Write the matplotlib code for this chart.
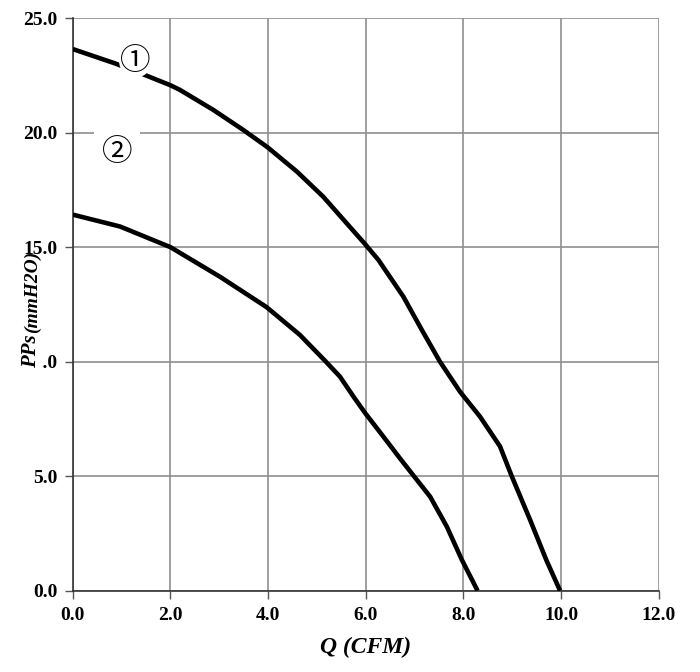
import matplotlib
matplotlib.use("Agg")
import matplotlib.pyplot as plt

# fan curves (Q in CFM, static pressure in mmH2O)
q1 = [0, 0.87, 1.45, 2.0, 2.2, 2.88, 3.49, 3.99, 4.59, 5.13, 5.61, 6.0, 6.26, 6.77,
      7.15, 7.52, 7.93, 8.34, 8.75, 8.99, 9.37, 9.7, 9.98]
p1 = [23.65, 23.02, 22.54, 22.07, 21.86, 20.99, 20.12, 19.36, 18.3, 17.2, 16.04, 15.1,
      14.44, 12.84, 11.38, 10.0, 8.69, 7.6, 6.3, 5.0, 3.07, 1.33, 0]

q2 = [0, 0.97, 2.0, 3.02, 3.97, 4.65, 5.17, 5.47, 5.75, 5.99, 6.36, 6.70, 6.98, 7.32,
      7.66, 7.97, 8.29]
p2 = [16.42, 15.9, 15.0, 13.7, 12.38, 11.17, 10.03, 9.35, 8.47, 7.75, 6.73, 5.78, 5.02,
      4.1, 2.8, 1.34, 0]

x_ticks = [0, 2, 4, 6, 8, 10, 12]
y_ticks = [0, 5, 10, 15, 20, 25]

serif = ["Liberation Serif", "DejaVu Serif"]

fig = plt.figure(figsize=(7, 6.72), dpi=100)
ax = fig.add_axes([0.104, 0.121, 0.837, 0.852])

for q, p in [(q1, p1), (q2, p2)]:
    ax.plot(q, p, color="black", lw=3.3, solid_capstyle="butt",
            solid_joinstyle="round", zorder=3)

ax.set_xlim(0, 12)
ax.set_ylim(0, 25)
ax.set_xticks(x_ticks)
ax.set_yticks(y_ticks)
ax.set_xticklabels([f"{v:.1f}" for v in x_ticks], fontfamily=serif, fontweight="bold", fontsize=14)
ax.set_yticklabels([f"{v:.1f}" for v in y_ticks], fontfamily=serif, fontweight="bold", fontsize=14)
ax.tick_params(direction="out", length=6, width=1, color="#555555")
ax.tick_params(axis="x", pad=6)
ax.tick_params(axis="y", pad=5)

ax.grid(True, color="#8f8f8f", lw=1.2)
for s in ["top", "right"]:
    ax.spines[s].set_visible(False)
for s in ["left", "bottom"]:
    ax.spines[s].set_color("#333333")
    ax.spines[s].set_linewidth(1.2)

# curve labels, white backing breaks the line / grid behind them
circ = ["Noto Sans CJK SC", "DejaVu Sans"]
ax.text(1.28, 23.1, "\u2460", fontsize=22, family=circ, ha="center", va="center",
        bbox=dict(boxstyle="circle,pad=0.02", fc="white", ec="none"), zorder=4)
ax.text(0.90, 19.14, "\u2461", fontsize=22, family=circ, ha="center", va="center",
        bbox=dict(boxstyle="square,pad=0.25", fc="white", ec="none"), zorder=4)

ax.set_xlabel("Q (CFM)", fontfamily=serif, fontweight="bold", fontstyle="italic",
              fontsize=17, labelpad=9)

# y label drawn on top, its backing hides the "10" of the 10.0 tick label
fig.text(0.051, 0.452, "PPs", rotation=90, rotation_mode="anchor", ha="left", va="baseline",
         fontfamily=serif, fontweight="bold", fontstyle="italic", fontsize=15,
         bbox=dict(boxstyle="square,pad=0.12", fc="white", ec="none"), zorder=10)
fig.text(0.053, 0.505, "(mmH2O)", rotation=90, rotation_mode="anchor", ha="left", va="baseline",
         fontfamily=serif, fontweight="bold", fontstyle="italic", fontsize=14, zorder=10)

fig.savefig("out.png", dpi=100, facecolor="white")
